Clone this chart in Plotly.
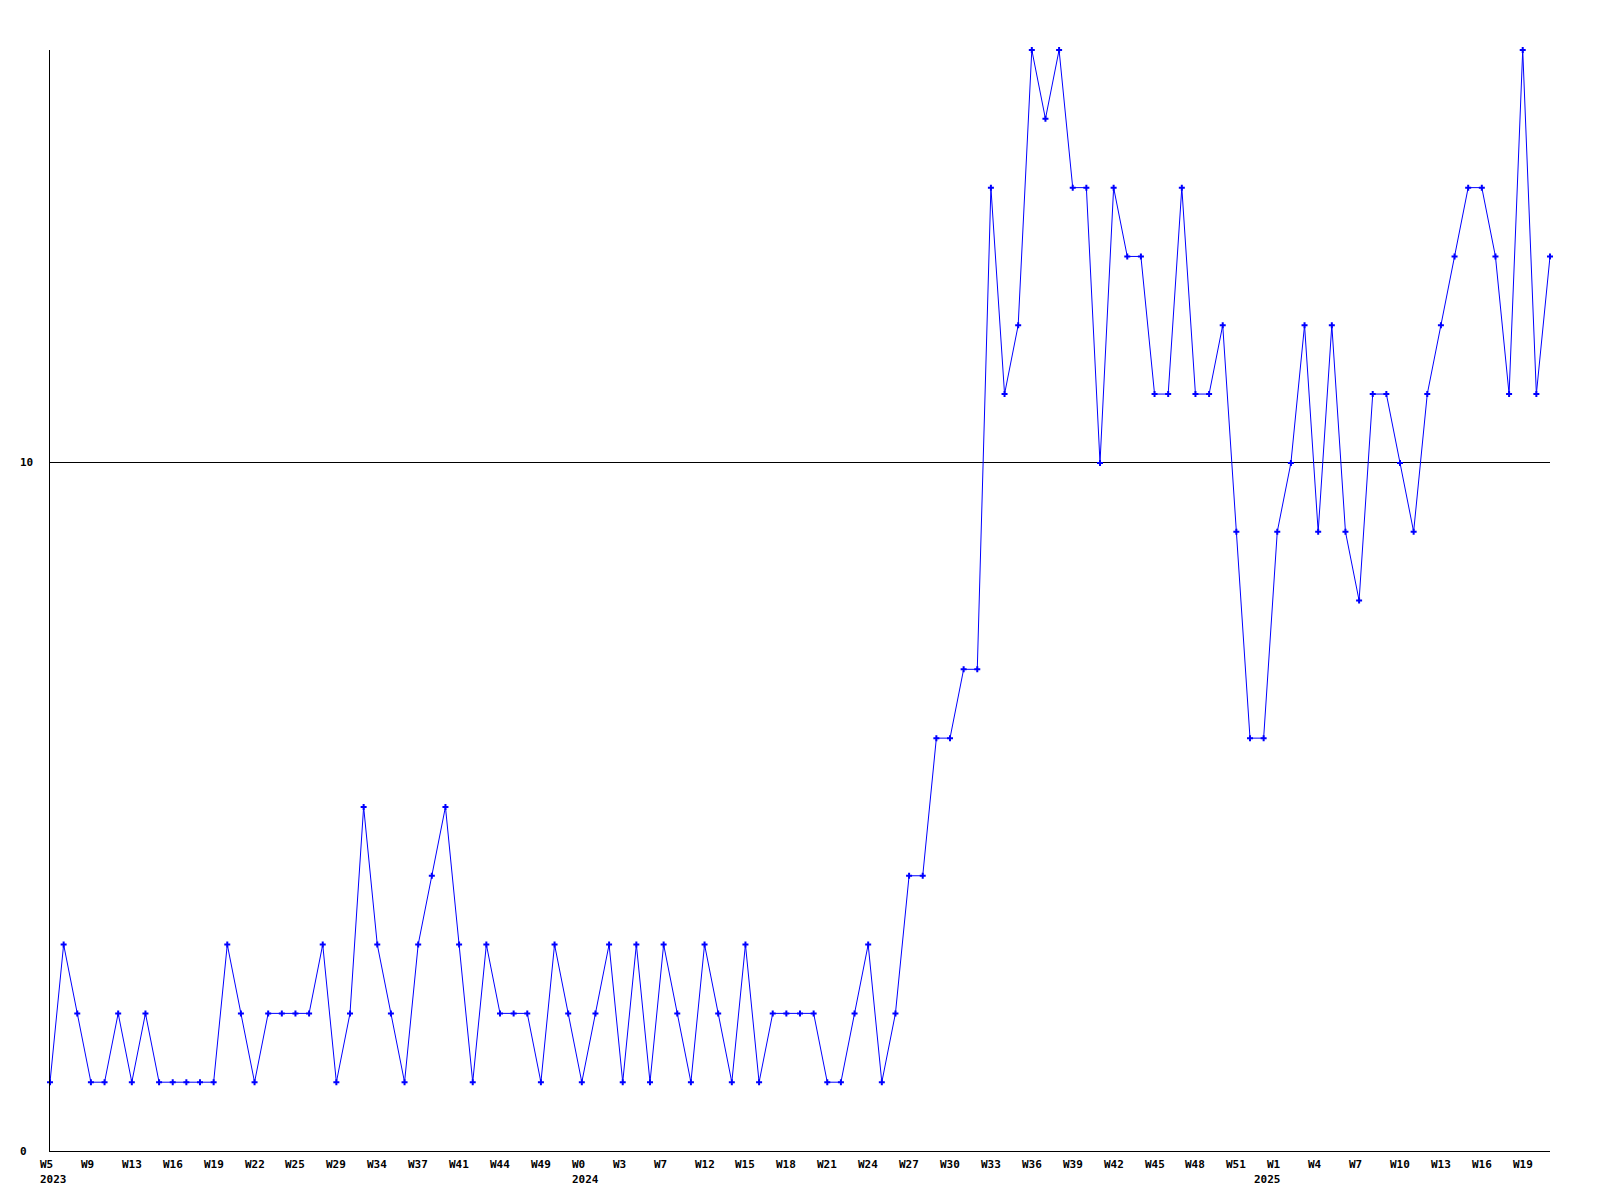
import plotly.graph_objects as go

# ---- data ----
values = [1, 3, 2, 1, 1, 2, 1, 2, 1, 1,
          1, 1, 1, 3, 2, 1, 2, 2, 2, 2,
          3, 1, 2, 5, 3, 2, 1, 3, 4, 5,
          3, 1, 3, 2, 2, 2, 1, 3, 2, 1,
          2, 3, 1, 3, 1, 3, 2, 1, 3, 2,
          1, 3, 1, 2, 2, 2, 2, 1, 1, 2,
          3, 1, 2, 4, 4, 6, 6, 7, 7, 14,
          11, 12, 16, 15, 16, 14, 14, 10, 14, 13,
          13, 11, 11, 14, 11, 11, 12, 9, 6, 6,
          9, 10, 12, 9, 12, 9, 8, 11, 11, 10,
          9, 11, 12, 13, 14, 14, 13, 11, 16, 11,
          13]
x_index = list(range(len(values)))

x_tick_index = list(range(0, 109, 3))
x_tick_text = ["W5", "W9", "W13", "W16", "W19", "W22", "W25", "W29", "W34", "W37",
               "W41", "W44", "W49", "W0", "W3", "W7", "W12", "W15", "W18", "W21",
               "W24", "W27", "W30", "W33", "W36", "W39", "W42", "W45", "W48", "W51",
               "W1", "W4", "W7", "W10", "W13", "W16", "W19"]
year_index = [0, 39, 89]
year_text = ["2023", "2024", "2025"]

y_tick_vals = [0, 10]
y_tick_text = ["0", "10"]

FONT = dict(family="DejaVu Sans Mono", size=11, color="black")

fig = go.Figure()
fig.add_trace(go.Scatter(
    x=x_index, y=values, mode="lines+markers",
    line=dict(color="#0000FF", width=1),
    marker=dict(symbol="cross", size=5, color="#0000FF", line=dict(width=0)),
    cliponaxis=False, hoverinfo="skip", showlegend=False,
))

annotations = []
for xi, t in zip(x_tick_index, x_tick_text):
    annotations.append(dict(x=xi, y=0, xref="x", yref="paper", text="<b>%s</b>" % t,
                            showarrow=False, xanchor="left", yanchor="middle",
                            xshift=-12, yshift=-13, font=FONT))
for xi, t in zip(year_index, year_text):
    annotations.append(dict(x=xi, y=0, xref="x", yref="paper", text="<b>%s</b>" % t,
                            showarrow=False, xanchor="left", yanchor="middle",
                            xshift=-12, yshift=-28, font=FONT))
for yv, t in zip(y_tick_vals, y_tick_text):
    annotations.append(dict(x=0, y=yv, xref="paper", yref="y", text="<b>%s</b>" % t,
                            showarrow=False, xanchor="left", yanchor="middle",
                            xshift=-32, font=FONT))

fig.update_layout(
    width=1600, height=1200,
    margin=dict(l=42, r=58, t=42, b=57, pad=0),
    paper_bgcolor="white", plot_bgcolor="white",
    annotations=annotations,
    xaxis=dict(range=[0, 110], showgrid=False, zeroline=False, showticklabels=False,
               ticks="", showline=True, linecolor="black", linewidth=1),
    yaxis=dict(range=[0, 16], tickvals=[10], showgrid=True, gridcolor="black", gridwidth=1,
               zeroline=False, showticklabels=False, ticks="",
               showline=True, linecolor="black", linewidth=1),
)

fig.write_html("out.html")
